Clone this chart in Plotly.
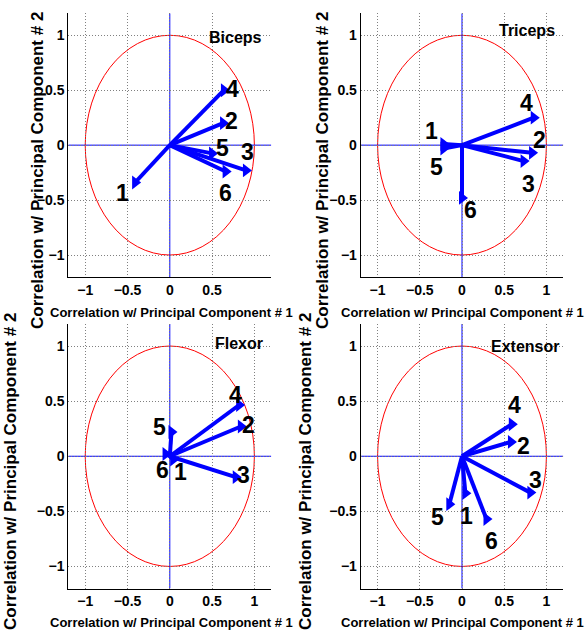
import plotly.graph_objects as go

# ---------------- data ----------------
MUSCLE_NAMES = ["Biceps", "Triceps", "Flexor", "Extensor"]
VECTOR_LABELS = ["1", "2", "3", "4", "5", "6"]

BICEPS_PC1 = [-0.41, 0.63, 0.90, 0.64, 0.50, 0.66]
BICEPS_PC2 = [-0.34, 0.20, -0.23, 0.50, -0.075, -0.24]

TRICEPS_PC1 = [-0.22, 0.83, 0.73, 0.85, -0.22, 0.0]
TRICEPS_PC2 = [0.01, -0.07, -0.145, 0.25, -0.03, -0.48]

FLEXOR_PC1 = [0.04, 0.84, 0.78, 0.82, 0.02, -0.05]
FLEXOR_PC2 = [-0.03, 0.27, -0.19, 0.465, 0.22, 0.02]

EXTENSOR_PC1 = [0.04, 0.58, 0.81, 0.59, -0.15, 0.29]
EXTENSOR_PC2 = [-0.335, 0.13, -0.33, 0.29, -0.435, -0.57]

X_TICKS_BICEPS = [-1, -0.5, 0, 0.5]
X_TICKS = [-1, -0.5, 0, 0.5, 1]
Y_TICKS = [-1, -0.5, 0, 0.5, 1]

# ---------------- layout helpers (positions / styles) ----------------
W, H = 585, 633
FONT = "Liberation Sans, Arial, Helvetica, sans-serif"

# label pixel offsets (dx right, dy down) per panel
LABEL_OFFSETS = [
    [(-13, 10), (8, -2), (2, -18), (9, -1), (10, -5), (0, 21)],
    [(-12, -13), (7, -13), (5, 23), (-7, -15), (-7, 19), (8, 12)],
    [(7, 12), (8, -1), (8, -2), (-4, -10), (-12, -5), (-3, 16)],
    [(1, 23), (13, 4), (5, -13), (3, -19), (-12, 13), (5, 22)],
]
TITLE_POS = [(0.78, 0.98), (0.77, 1.047), (0.82, 1.02), (0.75, 1.0)]

def px_x(p):
    return p / W

def px_y(p):
    return 1 - p / H

X_DOMAINS = [(68.3, 271.3), (360.7, 563.3), (68.3, 271.3), (360.7, 563.3)]
Y_DOMAINS = [(13.3, 277), (13.3, 277), (324, 588.5), (324, 588.5)]

panels = [
    (BICEPS_PC1, BICEPS_PC2, X_TICKS_BICEPS),
    (TRICEPS_PC1, TRICEPS_PC2, X_TICKS),
    (FLEXOR_PC1, FLEXOR_PC2, X_TICKS),
    (EXTENSOR_PC1, EXTENSOR_PC2, X_TICKS),
]

def fmt(v):
    if v == 0:
        return "0"
    s = ("%g" % abs(v))
    return ("\u2212" + s) if v < 0 else s

fig = go.Figure()
layout = dict(
    width=W, height=H,
    margin=dict(l=0, r=0, t=0, b=0),
    showlegend=False,
    plot_bgcolor="white",
    paper_bgcolor="white",
)
shapes = []
annotations = []

for i, (xs, ys, xt) in enumerate(panels):
    n = "" if i == 0 else str(i + 1)
    xa, ya = "x" + n, "y" + n
    xd = X_DOMAINS[i]
    yd = Y_DOMAINS[i]
    axis_common = dict(
        range=[-1.2, 1.2],
        showline=True, linecolor="black", linewidth=1, mirror=False,
        showgrid=True, gridcolor="#808080", griddash="1px,2px", gridwidth=1,
        zeroline=False, ticks="", fixedrange=True, automargin=False,
        tickfont=dict(family=FONT, size=14, color="black", weight="bold"),
    )
    layout["xaxis" + n] = dict(
        axis_common,
        domain=[px_x(xd[0]), px_x(xd[1])],
        anchor=ya,
        tickvals=xt, ticktext=[fmt(v) for v in xt],
    )
    layout["yaxis" + n] = dict(
        axis_common,
        domain=[px_y(yd[1]), px_y(yd[0])],
        anchor=xa,
        tickvals=Y_TICKS, ticktext=[fmt(v) for v in Y_TICKS],
    )
    # unit circle
    shapes.append(dict(type="circle", xref=xa, yref=ya, x0=-1, x1=1, y0=-1, y1=1,
                       line=dict(color="red", width=1), layer="below"))
    # cross lines
    shapes.append(dict(type="line", xref=xa, yref=ya, x0=-1.2, x1=1.2, y0=0, y1=0,
                       line=dict(color="blue", width=1), layer="below"))
    shapes.append(dict(type="line", xref=xa, yref=ya, x0=0, x1=0, y0=-1.2, y1=1.2,
                       line=dict(color="blue", width=1), layer="below"))

    # vectors
    for k in range(len(xs)):
        fig.add_trace(go.Scatter(
            x=[0, xs[k]], y=[0, ys[k]], xaxis=xa, yaxis=ya,
            mode="lines", line=dict(color="blue", width=4),
            hoverinfo="skip",
        ))
    fig.add_trace(go.Scatter(
        x=xs, y=ys, xaxis=xa, yaxis=ya, mode="markers",
        marker=dict(symbol="triangle-right", size=12, color="blue",
                    line=dict(width=0)),
        hoverinfo="skip",
    ))
    for k, lab in enumerate(VECTOR_LABELS):
        dx, dy = LABEL_OFFSETS[i][k]
        annotations.append(dict(
            x=xs[k], y=ys[k], xref=xa, yref=ya, text=lab, showarrow=False,
            xshift=dx, yshift=-dy,
            font=dict(family=FONT, size=23, color="black", weight="bold"),
        ))
    tx, ty = TITLE_POS[i]
    annotations.append(dict(
        x=tx, y=ty, xref=xa, yref=ya, text=MUSCLE_NAMES[i], showarrow=False,
        font=dict(family=FONT, size=16, color="black", weight="bold"),
    ))

# axis titles
XT_POS = [(171, 312), (462, 312), (171, 622), (462, 622)]
YT_POS = [(37, 171), (322, 171), (10, 472), (305, 472)]
for i in range(4):
    annotations.append(dict(
        x=px_x(XT_POS[i][0]), y=px_y(XT_POS[i][1]), xref="paper", yref="paper",
        text="Correlation w/ Principal Component # 1", showarrow=False,
        xanchor="center", yanchor="middle",
        font=dict(family=FONT, size=13, color="black", weight="bold"),
    ))
    annotations.append(dict(
        x=px_x(YT_POS[i][0]), y=px_y(YT_POS[i][1]), xref="paper", yref="paper",
        text="Correlation w/ Principal Component # 2", showarrow=False,
        textangle=-90, xanchor="center", yanchor="middle",
        font=dict(family=FONT, size=17, color="black", weight="bold"),
    ))

layout["shapes"] = shapes
layout["annotations"] = annotations
fig.update_layout(**layout)
fig.write_html(
    "out.html",
    config={"displayModeBar": False},
    post_script="document.body.style.margin='0';document.body.style.padding='0';",
)
